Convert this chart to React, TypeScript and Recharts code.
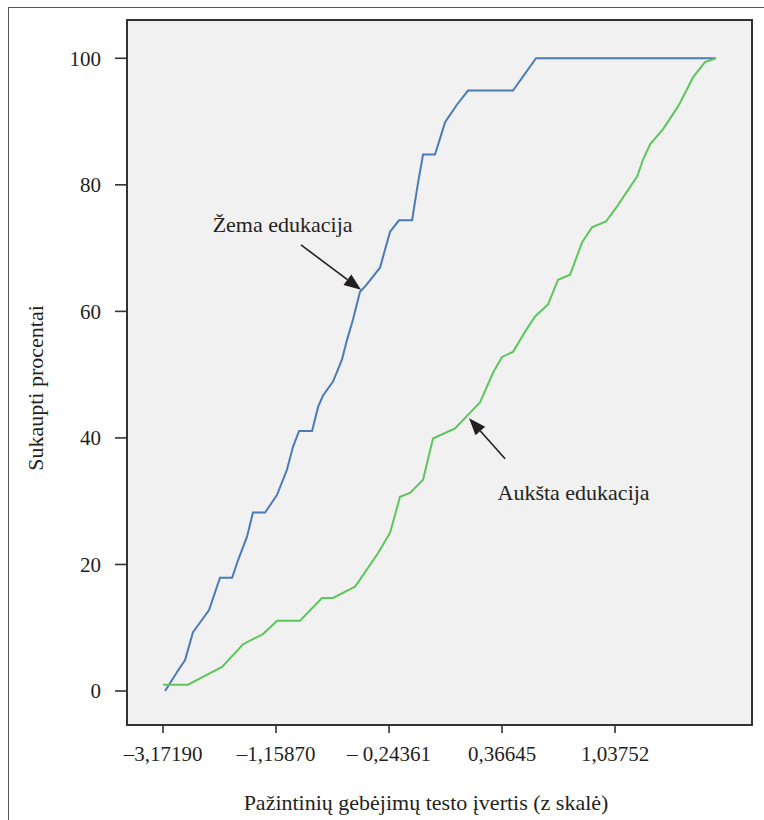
import React from 'react';
import {
  LineChart,
  Line,
  XAxis,
  YAxis,
  CartesianGrid,
  ReferenceArea,
  ReferenceLine,
  ReferenceDot,
} from 'recharts';

// Horizontal axis: ticks sit at evenly spaced score quantiles, so positions are
// expressed in tick-interval units (0 = first labelled score).
const scoreTickPos = [0, 1, 2, 3, 4];
const scoreTickLabels = ['–3,17190', '–1,15870', '– 0,24361', '0,36645', '1,03752'];
const pctTicks = [0, 20, 40, 60, 80, 100];

// Žema edukacija – cumulative percent
const lowEduPos = [
  0.018, 0.124, 0.195, 0.265, 0.31, 0.407, 0.504, 0.611, 0.664, 0.743, 0.796, 0.903,
  1.009, 1.097, 1.15, 1.204, 1.319, 1.372, 1.416, 1.504, 1.584, 1.628, 1.681, 1.743,
  1.796, 1.92, 2.009, 2.088, 2.204, 2.257, 2.301, 2.407, 2.496, 2.602, 2.699, 3.097,
  3.301, 4.89,
];
const lowEduPct = [
  0, 3.0, 4.9, 9.3, 10.4, 12.8, 17.9, 17.9, 20.7, 24.4, 28.2, 28.2,
  31.0, 35.0, 38.6, 41.1, 41.1, 44.9, 46.7, 48.9, 52.4, 55.5, 58.7, 63.1,
  64.1, 66.9, 72.6, 74.4, 74.4, 80.4, 84.8, 84.8, 89.9, 92.7, 94.9, 94.9,
  100, 100,
];

// Aukšta edukacija – cumulative percent
const highEduPos = [
  0, 0.221, 0.522, 0.708, 0.885, 1.009, 1.212, 1.407, 1.504, 1.699, 1.743, 1.903,
  2.009, 2.097, 2.186, 2.301, 2.389, 2.584, 2.717, 2.805, 2.92, 3.0, 3.097, 3.204,
  3.292, 3.407, 3.496, 3.602, 3.708, 3.796, 3.92, 4.018, 4.195, 4.248, 4.31, 4.425,
  4.558, 4.637, 4.69, 4.796, 4.894,
];
const highEduPct = [
  1.0, 1.0, 3.8, 7.4, 9.0, 11.1, 11.1, 14.7, 14.7, 16.5, 17.6, 21.8,
  25.0, 30.7, 31.3, 33.4, 39.9, 41.5, 44.0, 45.6, 50.3, 52.8, 53.6, 56.8,
  59.2, 61.1, 65.0, 65.8, 70.9, 73.3, 74.2, 76.6, 81.3, 84.0, 86.4, 88.8,
  92.4, 95.1, 97.0, 99.4, 100,
];

// Annotation labels and their arrows (data units)
const annotationText = ['Žema edukacija', 'Aukšta edukacija'];
const annotationTextPos = [
  { x: 1.058, y: 72.5 },
  { x: 3.633, y: 30.2 },
];
const arrowFrom = [
  { x: 1.221, y: 70.5 },
  { x: 3.027, y: 36.7 },
];
const arrowTo = [
  { x: 1.752, y: 63.4 },
  { x: 2.708, y: 43.1 },
];

const xDomain: [number, number] = [-0.319, 5.212];
const yDomain: [number, number] = [-5.37, 106.05];

const toRows = (xs: number[], ys: number[]) => xs.map((x, i) => ({ x, y: ys[i] }));
const lowEduRows = toRows(lowEduPos, lowEduPct);
const highEduRows = toRows(highEduPos, highEduPct);

const INK = '#231f20';
const SERIF = '"Liberation Serif", "DejaVu Serif", serif';

const ArrowShape = (props: any) => {
  const { x1, y1, x2, y2 } = props;
  const ang = Math.atan2(y2 - y1, x2 - x1);
  const len = 17;
  const half = 6.5;
  const bx = x2 - len * Math.cos(ang);
  const by = y2 - len * Math.sin(ang);
  const px = -Math.sin(ang) * half;
  const py = Math.cos(ang) * half;
  return (
    <g>
      <line x1={x1} y1={y1} x2={bx} y2={by} stroke={INK} strokeWidth={1.6} />
      <polygon
        points={`${x2},${y2} ${bx + px},${by + py} ${bx - px},${by - py}`}
        fill={INK}
      />
    </g>
  );
};

const makeTextShape = (text: string) => (props: any) => (
  <text
    x={props.cx}
    y={props.cy}
    textAnchor="middle"
    fontFamily={SERIF}
    fontSize={22}
    fill={INK}
  >
    {text}
  </text>
);

export default function App() {
  return (
    <div
      style={{
        position: 'fixed',
        left: 0,
        top: 0,
        width: 764,
        height: 820,
        overflow: 'hidden',
        background: '#fff',
      }}
    >
      <div
        style={{
          position: 'absolute',
          left: 8,
          top: 7,
          width: 800,
          height: 900,
          border: '1px solid #555',
        }}
      />
      <div style={{ position: 'absolute', left: 0, top: 0 }}>
        <LineChart
          width={764}
          height={820}
          margin={{ top: 20, right: 12, left: 0, bottom: 35 }}
        >
          <CartesianGrid fill="#f1f1f1" horizontal={false} vertical={false} />
          <XAxis
            type="number"
            dataKey="x"
            domain={xDomain}
            ticks={scoreTickPos}
            tickFormatter={(v: number) => scoreTickLabels[scoreTickPos.indexOf(v)] ?? ''}
            interval={0}
            height={60}
            axisLine={false}
            tickSize={8}
            tickMargin={13}
            tickLine={{ stroke: '#333', strokeWidth: 1.6 }}
            tick={{ fill: INK, fontSize: 21, fontFamily: SERIF }}
            allowDataOverflow
          />
          <YAxis
            type="number"
            domain={yDomain}
            ticks={pctTicks}
            interval={0}
            width={127}
            axisLine={false}
            tickSize={12}
            tickMargin={14}
            tickLine={{ stroke: '#333', strokeWidth: 1.6 }}
            tick={{ fill: INK, fontSize: 21, fontFamily: SERIF }}
            allowDataOverflow
          />
          <ReferenceArea
            x1={xDomain[0]}
            x2={xDomain[1]}
            y1={yDomain[0]}
            y2={yDomain[1]}
            fill="none"
            stroke="#333"
            strokeWidth={2}
            fillOpacity={0}
          />
          <Line
            data={lowEduRows}
            dataKey="y"
            type="linear"
            stroke="#4a7bb7"
            strokeWidth={2}
            dot={false}
            isAnimationActive={false}
          />
          <Line
            data={highEduRows}
            dataKey="y"
            type="linear"
            stroke="#5cc65c"
            strokeWidth={2}
            dot={false}
            isAnimationActive={false}
          />
          {arrowFrom.map((from, i) => (
            <ReferenceLine
              key={`arrow-${i}`}
              segment={[from, arrowTo[i]]}
              shape={ArrowShape}
            />
          ))}
          {annotationText.map((t, i) => (
            <ReferenceDot
              key={`note-${i}`}
              x={annotationTextPos[i].x}
              y={annotationTextPos[i].y}
              r={0}
              shape={makeTextShape(t)}
            />
          ))}
        </LineChart>
      </div>
      <svg
        width={764}
        height={820}
        style={{ position: 'absolute', left: 0, top: 0, pointerEvents: 'none' }}
      >
        <text
          x={426}
          y={810}
          textAnchor="middle"
          fontFamily={SERIF}
          fontSize={22}
          fill={INK}
        >
          Pažintinių gebėjimų testo įvertis (z skalė)
        </text>
        <text
          transform="translate(43,388) rotate(-90)"
          textAnchor="middle"
          fontFamily={SERIF}
          fontSize={22}
          fill={INK}
        >
          Sukaupti procentai
        </text>
      </svg>
    </div>
  );
}
